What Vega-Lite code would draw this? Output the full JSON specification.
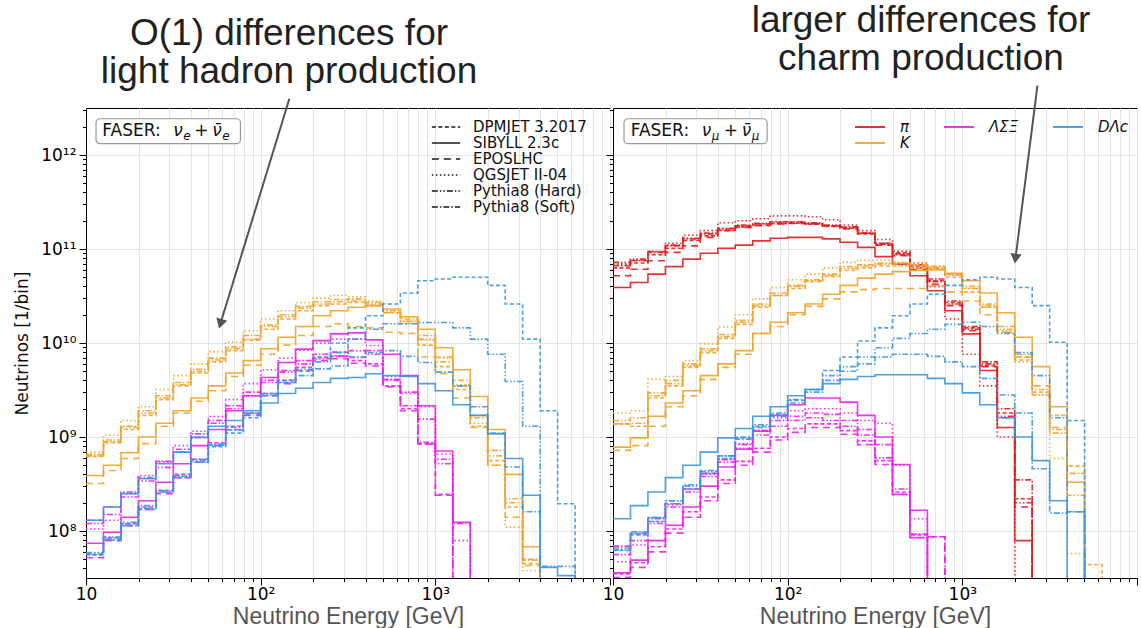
{
"$schema": "https://vega.github.io/schema/vega-lite/v6.json",
"background": "white",
"padding": {"left": 13, "top": 1, "right": 0, "bottom": 0},
"config": {
  "font": "DejaVu Sans",
  "view": {"stroke": "#000", "strokeWidth": 1},
  "axis": {"domainColor": "#000", "tickColor": "#000", "labelColor": "#000", "labelFont": "DejaVu Sans", "labelFontSize": 17, "labelOverlap": false, "labelFlush": false, "gridColor": "#e4e4e4", "gridWidth": 1}
},
"bounds": "flush",
"spacing": 3,
"resolve": {"scale": {"color": "independent", "strokeDash": "independent"}, "legend": {"color": "independent", "strokeDash": "independent"}},
"datasets": {"h": [
{"p":"L","s":"K","x":10,"D":6.2e8,"S":3.9e8,"E":3.2e8,"Q":6.9e8,"H":6.3e8,"F":6.5e8},
{"p":"L","s":"K","x":12.59,"D":8.7e8,"S":5.0e8,"E":4.4e8,"Q":1.05e9,"H":8.9e8,"F":9.3e8},
{"p":"L","s":"K","x":15.85,"D":1.2e9,"S":6.8e8,"E":5.9e8,"Q":1.5e9,"H":1.26e9,"F":1.3e9},
{"p":"L","s":"K","x":19.95,"D":1.7e9,"S":1.0e9,"E":8.5e8,"Q":2.1e9,"H":1.8e9,"F":1.9e9},
{"p":"L","s":"K","x":25.12,"D":2.5e9,"S":1.4e9,"E":1.3e9,"Q":3.2e9,"H":2.6e9,"F":2.75e9},
{"p":"L","s":"K","x":31.62,"D":3.5e9,"S":1.9e9,"E":1.8e9,"Q":4.5e9,"H":3.6e9,"F":3.8e9},
{"p":"L","s":"K","x":39.81,"D":4.8e9,"S":2.6e9,"E":2.4e9,"Q":6.0e9,"H":5.0e9,"F":5.25e9},
{"p":"L","s":"K","x":50.12,"D":6.3e9,"S":3.5e9,"E":3.1e9,"Q":8.1e9,"H":6.6e9,"F":6.9e9},
{"p":"L","s":"K","x":63.1,"D":8.3e9,"S":4.8e9,"E":4.4e9,"Q":1.02e10,"H":8.7e9,"F":9.1e9},
{"p":"L","s":"K","x":79.43,"D":1.07e10,"S":6.5e9,"E":5.8e9,"Q":1.35e10,"H":1.1e10,"F":1.2e10},
{"p":"L","s":"K","x":100,"D":1.4e10,"S":8.7e9,"E":7.6e9,"Q":1.8e10,"H":1.5e10,"F":1.55e10},
{"p":"L","s":"K","x":125.9,"D":1.8e10,"S":1.15e10,"E":9.5e9,"Q":2.2e10,"H":1.9e10,"F":2.0e10},
{"p":"L","s":"K","x":158.5,"D":2.2e10,"S":1.5e10,"E":1.2e10,"Q":2.7e10,"H":2.35e10,"F":2.45e10},
{"p":"L","s":"K","x":199.5,"D":2.5e10,"S":1.95e10,"E":1.5e10,"Q":3.0e10,"H":2.6e10,"F":2.75e10},
{"p":"L","s":"K","x":251.2,"D":2.6e10,"S":2.2e10,"E":1.6e10,"Q":3.2e10,"H":2.75e10,"F":2.9e10},
{"p":"L","s":"K","x":316.2,"D":2.7e10,"S":2.4e10,"E":1.5e10,"Q":3.1e10,"H":2.8e10,"F":2.95e10},
{"p":"L","s":"K","x":398.1,"D":2.5e10,"S":2.5e10,"E":1.45e10,"Q":2.8e10,"H":2.6e10,"F":2.7e10},
{"p":"L","s":"K","x":501.2,"D":2.1e10,"S":2.3e10,"E":1.3e10,"Q":2.2e10,"H":2.1e10,"F":2.2e10},
{"p":"L","s":"K","x":631,"D":1.6e10,"S":1.9e10,"E":1.26e10,"Q":1.7e10,"H":1.7e10,"F":1.8e10},
{"p":"L","s":"K","x":794.3,"D":9.5e9,"S":1.4e10,"E":7.1e9,"Q":1.07e10,"H":1.1e10,"F":1.2e10},
{"p":"L","s":"K","x":1000,"D":5.6e9,"S":8.9e9,"E":4.7e9,"Q":6.9e9,"H":6.3e9,"F":7.1e9},
{"p":"L","s":"K","x":1259,"D":3.2e9,"S":5.2e9,"E":2.6e9,"Q":3.6e9,"H":3.5e9,"F":4.0e9},
{"p":"L","s":"K","x":1585,"D":1.3e9,"S":2.7e9,"E":1.26e9,"Q":1.4e9,"H":1.6e9,"F":1.7e9},
{"p":"L","s":"K","x":1995,"D":5.6e8,"S":1.2e9,"E":5.0e8,"Q":5.0e8,"H":6.3e8,"F":7.2e8},
{"p":"L","s":"K","x":2512,"D":1.8e8,"S":4.0e8,"E":1.4e8,"Q":1.1e8,"H":2.0e8,"F":2.2e8},
{"p":"L","s":"K","x":3162,"D":4.5e7,"S":6.8e7,"E":4.3e7,"Q":3.8e7,"H":5.0e7,"F":4.9e7},
{"p":"L","s":"K","x":3981,"D":1,"S":1,"E":1,"Q":1,"H":1,"F":1},
{"p":"L","s":"ΛΣΞ","x":10,"D":5.6e7,"S":7.4e7,"E":5.2e7,"Q":1.05e8,"H":1.2e8,"F":1.3e8},
{"p":"L","s":"ΛΣΞ","x":12.59,"D":8.5e7,"S":9.7e7,"E":7.9e7,"Q":1.3e8,"H":1.5e8,"F":1.8e8},
{"p":"L","s":"ΛΣΞ","x":15.85,"D":1.2e8,"S":1.4e8,"E":1.14e8,"Q":2.5e8,"H":2.3e8,"F":2.6e8},
{"p":"L","s":"ΛΣΞ","x":19.95,"D":1.8e8,"S":2.1e8,"E":1.7e8,"Q":3.9e8,"H":3.4e8,"F":3.7e8},
{"p":"L","s":"ΛΣΞ","x":25.12,"D":2.7e8,"S":3.3e8,"E":2.5e8,"Q":5.4e8,"H":4.75e8,"F":5.5e8},
{"p":"L","s":"ΛΣΞ","x":31.62,"D":4.0e8,"S":5.2e8,"E":3.7e8,"Q":8.1e8,"H":6.9e8,"F":7.4e8},
{"p":"L","s":"ΛΣΞ","x":39.81,"D":5.8e8,"S":8.1e8,"E":5.4e8,"Q":1.15e9,"H":9.9e8,"F":1.08e9},
{"p":"L","s":"ΛΣΞ","x":50.12,"D":8.7e8,"S":1.2e9,"E":8.1e8,"Q":1.65e9,"H":1.4e9,"F":1.5e9},
{"p":"L","s":"ΛΣΞ","x":63.1,"D":1.3e9,"S":1.9e9,"E":1.2e9,"Q":2.5e9,"H":2.0e9,"F":2.15e9},
{"p":"L","s":"ΛΣΞ","x":79.43,"D":1.8e9,"S":2.75e9,"E":1.7e9,"Q":3.7e9,"H":2.75e9,"F":3.0e9},
{"p":"L","s":"ΛΣΞ","x":100,"D":2.9e9,"S":4.3e9,"E":2.75e9,"Q":5.2e9,"H":3.8e9,"F":4.0e9},
{"p":"L","s":"ΛΣΞ","x":125.9,"D":4.0e9,"S":6.2e9,"E":3.7e9,"Q":6.9e9,"H":4.9e9,"F":5.1e9},
{"p":"L","s":"ΛΣΞ","x":158.5,"D":5.5e9,"S":8.6e9,"E":5.1e9,"Q":8.4e9,"H":6.0e9,"F":6.5e9},
{"p":"L","s":"ΛΣΞ","x":199.5,"D":7.0e9,"S":1.06e10,"E":6.5e9,"Q":1.0e10,"H":6.8e9,"F":7.6e9},
{"p":"L","s":"ΛΣΞ","x":251.2,"D":7.2e9,"S":1.25e10,"E":6.8e9,"Q":1.1e10,"H":7.3e9,"F":8.0e9},
{"p":"L","s":"ΛΣΞ","x":316.2,"D":6.5e9,"S":1.28e10,"E":6.1e9,"Q":1.1e10,"H":8.3e9,"F":7.0e9},
{"p":"L","s":"ΛΣΞ","x":398.1,"D":6.0e9,"S":1.08e10,"E":5.7e9,"Q":9.4e9,"H":7.6e9,"F":8.3e9},
{"p":"L","s":"ΛΣΞ","x":501.2,"D":3.5e9,"S":7.6e9,"E":3.4e9,"Q":4.4e9,"H":4.0e9,"F":4.1e9},
{"p":"L","s":"ΛΣΞ","x":631,"D":2.0e9,"S":4.5e9,"E":1.9e9,"Q":2.9e9,"H":3.0e9,"F":2.15e9},
{"p":"L","s":"ΛΣΞ","x":794.3,"D":8.5e8,"S":2.15e9,"E":8.4e8,"Q":2.1e9,"H":1.55e9,"F":8.8e8},
{"p":"L","s":"ΛΣΞ","x":1000,"D":2.45e8,"S":7.1e8,"E":2.4e8,"Q":6.6e8,"H":5.2e8,"F":5.8e8},
{"p":"L","s":"ΛΣΞ","x":1259,"D":1,"S":1.24e8,"E":1,"Q":7.9e7,"H":1,"F":1.2e8},
{"p":"L","s":"ΛΣΞ","x":1585,"D":1,"S":1,"E":1,"Q":1,"H":1,"F":1},
{"p":"L","s":"DΛc","x":10,"D":5.6e7,"S":1.3e8,"H":5.9e7,"F":5.7e7},
{"p":"L","s":"DΛc","x":12.59,"D":8.0e7,"S":1.8e8,"H":8.6e7,"F":8.2e7},
{"p":"L","s":"DΛc","x":15.85,"D":1.14e8,"S":2.5e8,"H":1.24e8,"F":1.19e8},
{"p":"L","s":"DΛc","x":19.95,"D":1.7e8,"S":3.6e8,"H":1.86e8,"F":1.74e8},
{"p":"L","s":"DΛc","x":25.12,"D":2.6e8,"S":5.2e8,"H":2.7e8,"F":2.6e8},
{"p":"L","s":"DΛc","x":31.62,"D":3.7e8,"S":6.9e8,"H":3.9e8,"F":3.8e8},
{"p":"L","s":"DΛc","x":39.81,"D":5.4e8,"S":9.9e8,"H":5.8e8,"F":5.6e8},
{"p":"L","s":"DΛc","x":50.12,"D":7.9e8,"S":1.3e9,"H":8.4e8,"F":8.2e8},
{"p":"L","s":"DΛc","x":63.1,"D":1.1e9,"S":1.5e9,"H":1.27e9,"F":1.19e9},
{"p":"L","s":"DΛc","x":79.43,"D":1.6e9,"S":1.9e9,"H":1.8e9,"F":1.76e9},
{"p":"L","s":"DΛc","x":100,"D":2.75e9,"S":2.3e9,"H":2.8e9,"F":2.9e9},
{"p":"L","s":"DΛc","x":125.9,"D":3.8e9,"S":2.9e9,"H":4.0e9,"F":3.8e9},
{"p":"L","s":"DΛc","x":158.5,"D":5.0e9,"S":3.3e9,"H":5.25e9,"F":4.5e9},
{"p":"L","s":"DΛc","x":199.5,"D":7.1e9,"S":3.8e9,"H":6.3e9,"F":5.3e9},
{"p":"L","s":"DΛc","x":251.2,"D":1.0e10,"S":4.2e9,"H":7.9e9,"F":5.7e9},
{"p":"L","s":"DΛc","x":316.2,"D":1.45e10,"S":4.3e9,"H":1.1e10,"F":7.1e9},
{"p":"L","s":"DΛc","x":398.1,"D":1.95e10,"S":4.7e9,"H":1.4e10,"F":7.9e9},
{"p":"L","s":"DΛc","x":501.2,"D":2.6e10,"S":4.5e9,"H":1.6e10,"F":8.3e9},
{"p":"L","s":"DΛc","x":631,"D":3.4e10,"S":4.4e9,"H":1.6e10,"F":7.2e9},
{"p":"L","s":"DΛc","x":794.3,"D":4.6e10,"S":3.7e9,"H":1.65e10,"F":6.2e9},
{"p":"L","s":"DΛc","x":1000,"D":4.8e10,"S":3.1e9,"H":1.65e10,"F":4.9e9},
{"p":"L","s":"DΛc","x":1259,"D":5.0e10,"S":2.2e9,"H":1.45e10,"F":3.5e9},
{"p":"L","s":"DΛc","x":1585,"D":5.0e10,"S":1.7e9,"H":1.1e10,"F":2.1e9},
{"p":"L","s":"DΛc","x":1995,"D":4.1e10,"S":1.08e9,"H":7.6e9,"F":1.1e9},
{"p":"L","s":"DΛc","x":2512,"D":2.6e10,"S":5.9e8,"H":3.9e9,"F":4.8e8},
{"p":"L","s":"DΛc","x":3162,"D":1.1e10,"S":2.4e8,"H":1.3e9,"F":1.6e8},
{"p":"L","s":"DΛc","x":3981,"D":1.9e9,"S":4.1e7,"H":4.2e7,"F":1},
{"p":"L","s":"DΛc","x":5012,"D":1.95e8,"S":3.35e7,"H":4.2e7,"F":1},
{"p":"L","s":"DΛc","x":6310,"D":1,"S":1,"H":1,"F":1},
{"p":"R","s":"π","x":10,"D":6.3e10,"S":3.9e10,"E":5.2e10,"Q":6.9e10,"H":7.2e10,"F":6.65e10},
{"p":"R","s":"π","x":12.59,"D":7.1e10,"S":4.4e10,"E":6.1e10,"Q":7.6e10,"H":7.8e10,"F":7.5e10},
{"p":"R","s":"π","x":15.85,"D":8.7e10,"S":5.4e10,"E":7.5e10,"Q":9.4e10,"H":9.4e10,"F":9.2e10},
{"p":"R","s":"π","x":19.95,"D":1.02e11,"S":6.5e10,"E":9.2e10,"Q":1.15e11,"H":1.1e11,"F":1.08e11},
{"p":"R","s":"π","x":25.12,"D":1.23e11,"S":7.8e10,"E":1.08e11,"Q":1.4e11,"H":1.3e11,"F":1.28e11},
{"p":"R","s":"π","x":31.62,"D":1.38e11,"S":9.0e10,"E":1.33e11,"Q":1.57e11,"H":1.48e11,"F":1.45e11},
{"p":"R","s":"π","x":39.81,"D":1.58e11,"S":1.02e11,"E":1.57e11,"Q":1.9e11,"H":1.66e11,"F":1.63e11},
{"p":"R","s":"π","x":50.12,"D":1.72e11,"S":1.1e11,"E":1.7e11,"Q":2.0e11,"H":1.8e11,"F":1.77e11},
{"p":"R","s":"π","x":63.1,"D":1.8e11,"S":1.22e11,"E":1.77e11,"Q":2.1e11,"H":1.88e11,"F":1.85e11},
{"p":"R","s":"π","x":79.43,"D":1.86e11,"S":1.3e11,"E":1.85e11,"Q":2.25e11,"H":1.95e11,"F":1.92e11},
{"p":"R","s":"π","x":100,"D":1.88e11,"S":1.33e11,"E":1.87e11,"Q":2.25e11,"H":1.95e11,"F":1.92e11},
{"p":"R","s":"π","x":125.9,"D":1.84e11,"S":1.33e11,"E":1.85e11,"Q":2.2e11,"H":1.9e11,"F":1.87e11},
{"p":"R","s":"π","x":158.5,"D":1.74e11,"S":1.28e11,"E":1.77e11,"Q":2.05e11,"H":1.8e11,"F":1.77e11},
{"p":"R","s":"π","x":199.5,"D":1.66e11,"S":1.18e11,"E":1.63e11,"Q":1.8e11,"H":1.72e11,"F":1.7e11},
{"p":"R","s":"π","x":251.2,"D":1.45e11,"S":1.04e11,"E":1.47e11,"Q":1.57e11,"H":1.48e11,"F":1.47e11},
{"p":"R","s":"π","x":316.2,"D":1.15e11,"S":8.3e10,"E":1.1e11,"Q":1.26e11,"H":1.12e11,"F":1.15e11},
{"p":"R","s":"π","x":398.1,"D":9.1e10,"S":6.9e10,"E":8.5e10,"Q":9.5e10,"H":8.7e10,"F":8.9e10},
{"p":"R","s":"π","x":501.2,"D":6.6e10,"S":5.2e10,"E":6.0e10,"Q":7.1e10,"H":6.3e10,"F":6.8e10},
{"p":"R","s":"π","x":631,"D":4.6e10,"S":3.6e10,"E":4.2e10,"Q":4.0e10,"H":4.5e10,"F":4.8e10},
{"p":"R","s":"π","x":794.3,"D":2.7e10,"S":2.2e10,"E":2.5e10,"Q":1.8e10,"H":2.6e10,"F":2.8e10},
{"p":"R","s":"π","x":1000,"D":1.45e10,"S":1.25e10,"E":1.35e10,"Q":7.6e9,"H":1.4e10,"F":1.5e10},
{"p":"R","s":"π","x":1259,"D":5.75e9,"S":5.1e9,"E":5.6e9,"Q":3.5e9,"H":6.0e9,"F":6.3e9},
{"p":"R","s":"π","x":1585,"D":1.8e9,"S":1.26e9,"E":1.6e9,"Q":1.0e9,"H":1.66e9,"F":2.0e9},
{"p":"R","s":"π","x":1995,"D":2.2e8,"S":7.9e7,"E":1.8e8,"Q":1,"H":2.0e8,"F":3.5e8},
{"p":"R","s":"π","x":2512,"D":1,"S":1,"E":1,"Q":1,"H":1,"F":1},
{"p":"R","s":"K","x":10,"D":1.38e9,"S":7.8e8,"E":7.2e8,"Q":1.8e9,"H":1.5e9,"F":1.38e9},
{"p":"R","s":"K","x":12.59,"D":1.3e9,"S":9.8e8,"E":8.1e8,"Q":1.9e9,"H":1.6e9,"F":1.4e9},
{"p":"R","s":"K","x":15.85,"D":2.6e9,"S":1.66e9,"E":1.3e9,"Q":4.1e9,"H":2.95e9,"F":2.75e9},
{"p":"R","s":"K","x":19.95,"D":3.5e9,"S":2.3e9,"E":2.1e9,"Q":4.4e9,"H":3.7e9,"F":4.0e9},
{"p":"R","s":"K","x":25.12,"D":5.5e9,"S":3.1e9,"E":2.75e9,"Q":6.5e9,"H":5.75e9,"F":6.0e9},
{"p":"R","s":"K","x":31.62,"D":7.9e9,"S":4.5e9,"E":4.1e9,"Q":9.8e9,"H":8.3e9,"F":8.7e9},
{"p":"R","s":"K","x":39.81,"D":1.12e10,"S":6.0e9,"E":5.5e9,"Q":1.48e10,"H":1.17e10,"F":1.23e10},
{"p":"R","s":"K","x":50.12,"D":1.58e10,"S":8.3e9,"E":7.6e9,"Q":2.0e10,"H":1.66e10,"F":1.74e10},
{"p":"R","s":"K","x":63.1,"D":2.4e10,"S":1.26e10,"E":1.26e10,"Q":2.95e10,"H":2.5e10,"F":2.6e10},
{"p":"R","s":"K","x":79.43,"D":3.2e10,"S":1.66e10,"E":1.5e10,"Q":3.9e10,"H":3.2e10,"F":3.4e10},
{"p":"R","s":"K","x":100,"D":3.8e10,"S":2.1e10,"E":2.0e10,"Q":4.7e10,"H":4.0e10,"F":4.1e10},
{"p":"R","s":"K","x":125.9,"D":4.5e10,"S":2.6e10,"E":2.45e10,"Q":5.4e10,"H":4.6e10,"F":4.7e10},
{"p":"R","s":"K","x":158.5,"D":5.1e10,"S":3.3e10,"E":2.95e10,"Q":6.3e10,"H":5.25e10,"F":5.4e10},
{"p":"R","s":"K","x":199.5,"D":5.9e10,"S":4.1e10,"E":3.5e10,"Q":7.2e10,"H":6.2e10,"F":6.5e10},
{"p":"R","s":"K","x":251.2,"D":6.3e10,"S":4.9e10,"E":3.7e10,"Q":7.6e10,"H":6.6e10,"F":6.8e10},
{"p":"R","s":"K","x":316.2,"D":6.6e10,"S":5.4e10,"E":3.8e10,"Q":7.6e10,"H":6.9e10,"F":7.1e10},
{"p":"R","s":"K","x":398.1,"D":6.6e10,"S":5.75e10,"E":3.8e10,"Q":7.2e10,"H":6.9e10,"F":7.1e10},
{"p":"R","s":"K","x":501.2,"D":6.3e10,"S":5.9e10,"E":3.8e10,"Q":7.1e10,"H":6.6e10,"F":6.8e10},
{"p":"R","s":"K","x":631,"D":6.2e10,"S":6.0e10,"E":4.0e10,"Q":6.6e10,"H":6.3e10,"F":6.5e10},
{"p":"R","s":"K","x":794.3,"D":5.0e10,"S":5.5e10,"E":3.5e10,"Q":5.25e10,"H":5.25e10,"F":5.4e10},
{"p":"R","s":"K","x":1000,"D":3.5e10,"S":4.6e10,"E":2.8e10,"Q":3.8e10,"H":3.8e10,"F":4.0e10},
{"p":"R","s":"K","x":1259,"D":2.4e10,"S":3.4e10,"E":2.0e10,"Q":2.4e10,"H":2.5e10,"F":2.6e10},
{"p":"R","s":"K","x":1585,"D":1.3e10,"S":2.1e10,"E":1.3e10,"Q":1.35e10,"H":1.4e10,"F":1.5e10},
{"p":"R","s":"K","x":1995,"D":6.6e9,"S":1.15e10,"E":7.1e9,"Q":6.3e9,"H":7.1e9,"F":7.6e9},
{"p":"R","s":"K","x":2512,"D":3.0e9,"S":5.6e9,"E":3.5e9,"Q":2.8e9,"H":2.8e9,"F":3.2e9},
{"p":"R","s":"K","x":3162,"D":1.7e9,"S":2.1e9,"E":1.26e9,"Q":5.9e8,"H":1.1e9,"F":1.2e9},
{"p":"R","s":"K","x":3981,"D":4.9e8,"S":3.3e8,"E":1.6e8,"Q":5.75e7,"H":2.4e8,"F":4.1e8},
{"p":"R","s":"K","x":5012,"D":4.4e7,"S":1,"E":1,"Q":1,"H":1,"F":1},
{"p":"R","s":"K","x":6310,"D":1,"S":1,"E":1,"Q":1,"H":1,"F":1},
{"p":"R","s":"ΛΣΞ","x":10,"D":3.5e7,"S":3.6e7,"E":3.2e7,"Q":4.7e7,"H":5.6e7,"F":6.9e7},
{"p":"R","s":"ΛΣΞ","x":12.59,"D":4.6e7,"S":4.9e7,"E":4.1e7,"Q":7.1e7,"H":7.9e7,"F":9.3e7},
{"p":"R","s":"ΛΣΞ","x":15.85,"D":6.8e7,"S":7.9e7,"E":6.0e7,"Q":1.26e8,"H":1.2e8,"F":1.35e8},
{"p":"R","s":"ΛΣΞ","x":19.95,"D":1.05e8,"S":1.15e8,"E":9.5e7,"Q":1.9e8,"H":1.8e8,"F":1.95e8},
{"p":"R","s":"ΛΣΞ","x":25.12,"D":1.6e8,"S":1.8e8,"E":1.4e8,"Q":2.8e8,"H":2.6e8,"F":2.8e8},
{"p":"R","s":"ΛΣΞ","x":31.62,"D":2.3e8,"S":3.0e8,"E":2.1e8,"Q":4.0e8,"H":3.8e8,"F":4.1e8},
{"p":"R","s":"ΛΣΞ","x":39.81,"D":3.5e8,"S":4.8e8,"E":3.2e8,"Q":5.9e8,"H":5.4e8,"F":5.75e8},
{"p":"R","s":"ΛΣΞ","x":50.12,"D":5.5e8,"S":7.4e8,"E":5.0e8,"Q":8.5e8,"H":7.6e8,"F":8.3e8},
{"p":"R","s":"ΛΣΞ","x":63.1,"D":7.6e8,"S":1.15e9,"E":6.9e8,"Q":1.17e9,"H":1.05e9,"F":1.17e9},
{"p":"R","s":"ΛΣΞ","x":79.43,"D":1.0e9,"S":1.7e9,"E":9.3e8,"Q":1.6e9,"H":1.3e9,"F":1.5e9},
{"p":"R","s":"ΛΣΞ","x":100,"D":1.23e9,"S":2.2e9,"E":1.12e9,"Q":1.9e9,"H":1.5e9,"F":1.66e9},
{"p":"R","s":"ΛΣΞ","x":125.9,"D":1.38e9,"S":2.6e9,"E":1.26e9,"Q":2.0e9,"H":1.6e9,"F":1.8e9},
{"p":"R","s":"ΛΣΞ","x":158.5,"D":1.38e9,"S":2.6e9,"E":1.26e9,"Q":2.0e9,"H":1.5e9,"F":1.74e9},
{"p":"R","s":"ΛΣΞ","x":199.5,"D":1.17e9,"S":2.35e9,"E":1.07e9,"Q":1.8e9,"H":1.3e9,"F":1.5e9},
{"p":"R","s":"ΛΣΞ","x":251.2,"D":9.1e8,"S":1.7e9,"E":8.3e8,"Q":1.5e9,"H":1.05e9,"F":1.2e9},
{"p":"R","s":"ΛΣΞ","x":316.2,"D":5.6e8,"S":1.0e9,"E":5.1e8,"Q":1.4e9,"H":6.0e8,"F":8.3e8},
{"p":"R","s":"ΛΣΞ","x":398.1,"D":2.6e8,"S":5.1e8,"E":2.45e8,"Q":5.0e8,"H":2.45e8,"F":2.8e8},
{"p":"R","s":"ΛΣΞ","x":501.2,"D":9.1e7,"S":1.66e8,"E":8.5e7,"Q":1.35e8,"H":8.5e7,"F":9.3e7},
{"p":"R","s":"ΛΣΞ","x":631,"D":1,"S":1,"E":8.7e7,"Q":1,"H":1,"F":8.7e7},
{"p":"R","s":"ΛΣΞ","x":794.3,"D":1,"S":1,"E":1,"Q":1,"H":1,"F":1},
{"p":"R","s":"DΛc","x":10,"D":6.2e7,"S":1.35e8,"H":6.3e7,"F":6.6e7},
{"p":"R","s":"DΛc","x":12.59,"D":9.1e7,"S":1.86e8,"H":9.5e7,"F":9.8e7},
{"p":"R","s":"DΛc","x":15.85,"D":1.26e8,"S":2.6e8,"H":1.38e8,"F":1.4e8},
{"p":"R","s":"DΛc","x":19.95,"D":1.95e8,"S":3.7e8,"H":2.1e8,"F":2.1e8},
{"p":"R","s":"DΛc","x":25.12,"D":2.8e8,"S":5.0e8,"H":3.0e8,"F":3.1e8},
{"p":"R","s":"DΛc","x":31.62,"D":4.1e8,"S":6.9e8,"H":4.3e8,"F":4.4e8},
{"p":"R","s":"DΛc","x":39.81,"D":5.9e8,"S":9.8e8,"H":6.3e8,"F":6.3e8},
{"p":"R","s":"DΛc","x":50.12,"D":9.8e8,"S":1.23e9,"H":1.0e9,"F":9.5e8},
{"p":"R","s":"DΛc","x":63.1,"D":1.3e9,"S":1.66e9,"H":1.35e9,"F":1.26e9},
{"p":"R","s":"DΛc","x":79.43,"D":1.74e9,"S":2.1e9,"H":1.8e9,"F":1.66e9},
{"p":"R","s":"DΛc","x":100,"D":2.45e9,"S":2.75e9,"H":2.5e9,"F":2.3e9},
{"p":"R","s":"DΛc","x":125.9,"D":3.2e9,"S":3.2e9,"H":3.2e9,"F":3.0e9},
{"p":"R","s":"DΛc","x":158.5,"D":5.1e9,"S":3.7e9,"H":4.5e9,"F":4.0e9},
{"p":"R","s":"DΛc","x":199.5,"D":7.1e9,"S":4.1e9,"H":5.6e9,"F":5.0e9},
{"p":"R","s":"DΛc","x":251.2,"D":1.05e10,"S":4.4e9,"H":7.1e9,"F":6.0e9},
{"p":"R","s":"DΛc","x":316.2,"D":1.45e10,"S":4.6e9,"H":8.9e9,"F":7.1e9},
{"p":"R","s":"DΛc","x":398.1,"D":1.95e10,"S":4.6e9,"H":1.12e10,"F":7.6e9},
{"p":"R","s":"DΛc","x":501.2,"D":2.6e10,"S":4.6e9,"H":1.26e10,"F":7.6e9},
{"p":"R","s":"DΛc","x":631,"D":3.3e10,"S":4.2e9,"H":1.4e10,"F":7.2e9},
{"p":"R","s":"DΛc","x":794.3,"D":4.1e10,"S":3.7e9,"H":1.58e10,"F":6.3e9},
{"p":"R","s":"DΛc","x":1000,"D":4.7e10,"S":2.95e9,"H":1.66e10,"F":5.6e9},
{"p":"R","s":"DΛc","x":1259,"D":5.0e10,"S":2.2e9,"H":1.5e10,"F":4.2e9},
{"p":"R","s":"DΛc","x":1585,"D":4.8e10,"S":1.6e9,"H":1.26e10,"F":2.8e9},
{"p":"R","s":"DΛc","x":1995,"D":3.9e10,"S":1.0e9,"H":7.9e9,"F":1.8e9},
{"p":"R","s":"DΛc","x":2512,"D":2.5e10,"S":5.6e8,"H":4.5e9,"F":4.6e8},
{"p":"R","s":"DΛc","x":3162,"D":1.02e10,"S":2.1e8,"H":1.6e9,"F":1.55e8},
{"p":"R","s":"DΛc","x":3981,"D":1.5e9,"S":1,"H":1.6e8,"F":1.6e8},
{"p":"R","s":"DΛc","x":5012,"D":1,"S":1,"H":1,"F":1}
]},
"hconcat": [
{
  "width": 524, "height": 470,
  "title": {"text": ["O(1) differences for", "light hadron production"], "font": "Liberation Sans", "fontSize": 37, "fontWeight": "normal", "color": "#222", "lineHeight": 38, "anchor": "middle", "frame": "group", "dx": -59, "offset": 7},
  "layer": [
    {
      "data": {"name": "h"},
      "transform": [{"filter": "datum.p == 'L'"}, {"fold": ["D", "S", "E", "Q", "H", "F"], "as": ["g", "y"]}, {"filter": "isValid(datum.y)"}],
      "mark": {"type": "line", "interpolate": "step-after", "clip": true, "strokeWidth": 1.6, "opacity": 0.9},
      "encoding": {
        "x": {"field": "x", "type": "quantitative", "scale": {"type": "log", "domain": [10, 10000], "nice": false},
              "axis": {"values": [10,20,30,40,50,60,70,80,90,100,200,300,400,500,600,700,800,900,1000,2000,3000,4000,5000,6000,7000,8000,9000,10000],
                       "labelExpr": "datum.value == 10 ? '10' : datum.value == 100 ? '10²' : datum.value == 1000 ? '10³' : ''",
                       "title": "Neutrino Energy [GeV]", "titleFont": "Liberation Sans", "titleFontSize": 23, "titleFontWeight": "normal", "titleColor": "#555", "titlePadding": 3, "labelPadding": 1,
                       "tickSize": {"condition": {"test": "datum.value == 10 || datum.value == 100 || datum.value == 1000 || datum.value == 10000", "value": 7}, "value": 3.5}}},
        "y": {"field": "y", "type": "quantitative", "scale": {"type": "log", "domain": [3.1623e7, 3.1623e12], "nice": false},
              "axis": {"values": [4e7,5e7,6e7,7e7,8e7,9e7,1e8,2e8,3e8,4e8,5e8,6e8,7e8,8e8,9e8,1e9,2e9,3e9,4e9,5e9,6e9,7e9,8e9,9e9,1e10,2e10,3e10,4e10,5e10,6e10,7e10,8e10,9e10,1e11,2e11,3e11,4e11,5e11,6e11,7e11,8e11,9e11,1e12,2e12,3e12],
                       "labelExpr": "datum.value == 1e8 ? '10⁸' : datum.value == 1e9 ? '10⁹' : datum.value == 1e10 ? '10¹⁰' : datum.value == 1e11 ? '10¹¹' : datum.value == 1e12 ? '10¹²' : ''",
                       "title": "Neutrinos [1/bin]", "titleFont": "DejaVu Sans", "titleFontSize": 17, "titleFontWeight": "normal", "titleColor": "#111", "titlePadding": 9, "labelPadding": 3,
                       "gridOpacity": {"condition": {"test": "datum.value == 1e8 || datum.value == 1e9 || datum.value == 1e10 || datum.value == 1e11 || datum.value == 1e12", "value": 1}, "value": 0},
                       "tickSize": {"condition": {"test": "datum.value == 1e8 || datum.value == 1e9 || datum.value == 1e10 || datum.value == 1e11 || datum.value == 1e12", "value": 7}, "value": 3.5}}},
        "color": {"field": "s", "type": "nominal", "scale": {"domain": ["π", "ΛΣΞ", "DΛc", "K"], "range": ["#e41a1c", "#f01ef0", "#3b95e2", "#f2a22a"]}, "legend": null},
        "strokeDash": {"field": "g", "type": "nominal", "scale": {"domain": ["D", "S", "E", "Q", "H", "F"], "range": [[4, 2.5], [1, 0], [7, 5], [1.5, 2.5], [6, 2, 1.5, 2, 1.5, 2], [6, 2, 1.5, 2]]},
                       "legend": {"orient": "none", "legendX": 345, "legendY": 11, "title": null, "symbolType": "stroke", "symbolStrokeColor": "#000", "symbolStrokeWidth": 1.6, "symbolSize": 800, "clipHeight": 16, "rowPadding": 0, "labelOffset": 12, "labelFont": "DejaVu Sans", "labelFontSize": 15, "labelColor": "#111",
                                  "labelExpr": "datum.label == 'D' ? 'DPMJET 3.2017' : datum.label == 'S' ? 'SIBYLL 2.3c' : datum.label == 'E' ? 'EPOSLHC' : datum.label == 'Q' ? 'QGSJET II-04' : datum.label == 'H' ? 'Pythia8 (Hard)' : 'Pythia8 (Soft)'"}}
      }
    },
    {"data": {"values": [{}]}, "mark": {"type": "rect", "fill": "white", "stroke": "#999", "strokeWidth": 1.2, "cornerRadius": 4},
     "encoding": {"x": {"datum": 11.41}, "x2": {"datum": 76.6}, "y": {"datum": 2.43e12}, "y2": {"datum": 1.32e12}}},
    {"data": {"values": [{}]}, "mark": {"type": "text", "text": "FASER:", "align": "left", "baseline": "middle", "font": "DejaVu Sans", "fontSize": 17, "color": "#111"},
     "encoding": {"x": {"datum": 12.4}, "y": {"datum": 1.79e12}}},
    {"data": {"values": [{}]}, "mark": {"type": "text", "text": "ν", "align": "left", "baseline": "middle", "font": "DejaVu Sans", "fontSize": 17, "fontStyle": "italic", "color": "#111", "dx": 71},
     "encoding": {"x": {"datum": 12.4}, "y": {"datum": 1.79e12}}},
    {"data": {"values": [{}]}, "mark": {"type": "text", "text": "e", "align": "left", "baseline": "middle", "font": "DejaVu Sans", "fontSize": 12, "fontStyle": "italic", "color": "#111", "dx": 81, "dy": 5},
     "encoding": {"x": {"datum": 12.4}, "y": {"datum": 1.79e12}}},
    {"data": {"values": [{}]}, "mark": {"type": "text", "text": "+", "align": "left", "baseline": "middle", "font": "DejaVu Sans", "fontSize": 17, "color": "#111", "dx": 92},
     "encoding": {"x": {"datum": 12.4}, "y": {"datum": 1.79e12}}},
    {"data": {"values": [{}]}, "mark": {"type": "text", "text": "ν̄", "align": "left", "baseline": "middle", "font": "DejaVu Sans", "fontSize": 17, "fontStyle": "italic", "color": "#111", "dx": 110},
     "encoding": {"x": {"datum": 12.4}, "y": {"datum": 1.79e12}}},
    {"data": {"values": [{}]}, "mark": {"type": "text", "text": "e", "align": "left", "baseline": "middle", "font": "DejaVu Sans", "fontSize": 12, "fontStyle": "italic", "color": "#111", "dx": 120, "dy": 5},
     "encoding": {"x": {"datum": 12.4}, "y": {"datum": 1.79e12}}},
    {"data": {"values": [{}]}, "mark": {"type": "rule", "clip": false, "color": "#555", "strokeWidth": 2},
     "encoding": {"x": {"datum": 146}, "y": {"datum": 3.97e12}, "x2": {"datum": 58.8}, "y2": {"datum": 1.6e10}}},
    {"data": {"values": [{}]}, "mark": {"type": "point", "shape": "triangle-up", "angle": 197, "filled": true, "color": "#555", "opacity": 1, "size": 130, "clip": false},
     "encoding": {"x": {"datum": 58.8}, "y": {"datum": 1.6e10}}}
  ]
},
{
  "width": 524, "height": 470,
  "title": {"text": ["larger differences for", "charm production"], "font": "Liberation Sans", "fontSize": 37, "fontWeight": "normal", "color": "#222", "lineHeight": 38, "anchor": "middle", "frame": "group", "dx": 46, "offset": 7},
  "layer": [
    {
      "data": {"name": "h"},
      "transform": [{"filter": "datum.p == 'R'"}, {"fold": ["D", "S", "E", "Q", "H", "F"], "as": ["g", "y"]}, {"filter": "isValid(datum.y)"}],
      "mark": {"type": "line", "interpolate": "step-after", "clip": true, "strokeWidth": 1.6, "opacity": 0.9},
      "encoding": {
        "x": {"field": "x", "type": "quantitative", "scale": {"type": "log", "domain": [10, 10000], "nice": false},
              "axis": {"values": [10,20,30,40,50,60,70,80,90,100,200,300,400,500,600,700,800,900,1000,2000,3000,4000,5000,6000,7000,8000,9000,10000],
                       "labelExpr": "datum.value == 10 ? '10' : datum.value == 100 ? '10²' : datum.value == 1000 ? '10³' : ''",
                       "title": "Neutrino Energy [GeV]", "titleFont": "Liberation Sans", "titleFontSize": 23, "titleFontWeight": "normal", "titleColor": "#555", "titlePadding": 3, "labelPadding": 1,
                       "tickSize": {"condition": {"test": "datum.value == 10 || datum.value == 100 || datum.value == 1000 || datum.value == 10000", "value": 7}, "value": 3.5}}},
        "y": {"field": "y", "type": "quantitative", "scale": {"type": "log", "domain": [3.1623e7, 3.1623e12], "nice": false},
              "axis": {"values": [4e7,5e7,6e7,7e7,8e7,9e7,1e8,2e8,3e8,4e8,5e8,6e8,7e8,8e8,9e8,1e9,2e9,3e9,4e9,5e9,6e9,7e9,8e9,9e9,1e10,2e10,3e10,4e10,5e10,6e10,7e10,8e10,9e10,1e11,2e11,3e11,4e11,5e11,6e11,7e11,8e11,9e11,1e12,2e12,3e12],
                       "labels": false, "title": null,
                       "gridOpacity": {"condition": {"test": "datum.value == 1e8 || datum.value == 1e9 || datum.value == 1e10 || datum.value == 1e11 || datum.value == 1e12", "value": 1}, "value": 0},
                       "tickSize": {"condition": {"test": "datum.value == 1e8 || datum.value == 1e9 || datum.value == 1e10 || datum.value == 1e11 || datum.value == 1e12", "value": 7}, "value": 3.5}}},
        "color": {"field": "s", "type": "nominal", "scale": {"domain": ["π", "ΛΣΞ", "DΛc", "K"], "range": ["#e41a1c", "#f01ef0", "#3b95e2", "#f2a22a"]},
                  "legend": {"orient": "none", "legendX": 241, "legendY": 11, "title": null, "direction": "horizontal", "columns": 3, "columnPadding": 33, "symbolType": "stroke", "symbolStrokeWidth": 2, "symbolSize": 900, "clipHeight": 16, "rowPadding": 0, "labelOffset": 14, "labelFont": "DejaVu Sans", "labelFontSize": 15, "labelColor": "#111", "labelFontStyle": "italic"}},
        "strokeDash": {"field": "g", "type": "nominal", "scale": {"domain": ["D", "S", "E", "Q", "H", "F"], "range": [[4, 2.5], [1, 0], [7, 5], [1.5, 2.5], [6, 2, 1.5, 2, 1.5, 2], [6, 2, 1.5, 2]]}, "legend": null}
      }
    },
    {"data": {"values": [{}]}, "mark": {"type": "rect", "fill": "white", "stroke": "#999", "strokeWidth": 1.2, "cornerRadius": 4},
     "encoding": {"x": {"datum": 11.56}, "x2": {"datum": 76.3}, "y": {"datum": 2.43e12}, "y2": {"datum": 1.32e12}}},
    {"data": {"values": [{}]}, "mark": {"type": "text", "text": "FASER:", "align": "left", "baseline": "middle", "font": "DejaVu Sans", "fontSize": 17, "color": "#111"},
     "encoding": {"x": {"datum": 12.63}, "y": {"datum": 1.79e12}}},
    {"data": {"values": [{}]}, "mark": {"type": "text", "text": "ν", "align": "left", "baseline": "middle", "font": "DejaVu Sans", "fontSize": 17, "fontStyle": "italic", "color": "#111", "dx": 71},
     "encoding": {"x": {"datum": 12.63}, "y": {"datum": 1.79e12}}},
    {"data": {"values": [{}]}, "mark": {"type": "text", "text": "μ", "align": "left", "baseline": "middle", "font": "DejaVu Sans", "fontSize": 12, "fontStyle": "italic", "color": "#111", "dx": 81, "dy": 5},
     "encoding": {"x": {"datum": 12.63}, "y": {"datum": 1.79e12}}},
    {"data": {"values": [{}]}, "mark": {"type": "text", "text": "+", "align": "left", "baseline": "middle", "font": "DejaVu Sans", "fontSize": 17, "color": "#111", "dx": 93},
     "encoding": {"x": {"datum": 12.63}, "y": {"datum": 1.79e12}}},
    {"data": {"values": [{}]}, "mark": {"type": "text", "text": "ν̄", "align": "left", "baseline": "middle", "font": "DejaVu Sans", "fontSize": 17, "fontStyle": "italic", "color": "#111", "dx": 111},
     "encoding": {"x": {"datum": 12.63}, "y": {"datum": 1.79e12}}},
    {"data": {"values": [{}]}, "mark": {"type": "text", "text": "μ", "align": "left", "baseline": "middle", "font": "DejaVu Sans", "fontSize": 12, "fontStyle": "italic", "color": "#111", "dx": 121, "dy": 5},
     "encoding": {"x": {"datum": 12.63}, "y": {"datum": 1.79e12}}},
    {"data": {"values": [{}]}, "mark": {"type": "rule", "clip": false, "color": "#555", "strokeWidth": 2},
     "encoding": {"x": {"datum": 2692}, "y": {"datum": 5.46e12}, "x2": {"datum": 2014}, "y2": {"datum": 7.9e10}}},
    {"data": {"values": [{}]}, "mark": {"type": "point", "shape": "triangle-up", "angle": 187, "filled": true, "color": "#555", "opacity": 1, "size": 130, "clip": false},
     "encoding": {"x": {"datum": 2014}, "y": {"datum": 7.9e10}}}
  ]
}
]
}
